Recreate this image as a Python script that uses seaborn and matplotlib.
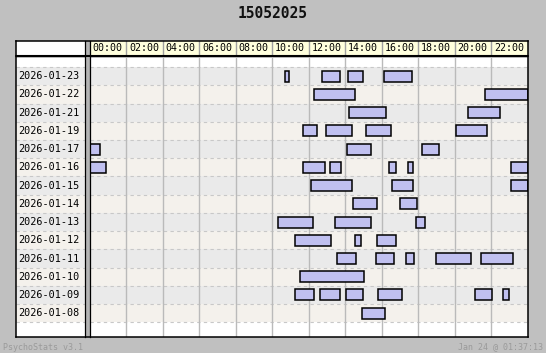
import matplotlib
matplotlib.use("Agg")
import matplotlib.pyplot as plt
import matplotlib.transforms as mtransforms
from matplotlib.lines import Line2D
import seaborn as sns
import pandas as pd

# ---------------- data ----------------
title = "15052025"
dates = ["2026-01-23", "2026-01-22", "2026-01-21", "2026-01-19", "2026-01-17",
         "2026-01-16", "2026-01-15", "2026-01-14", "2026-01-13", "2026-01-12",
         "2026-01-11", "2026-01-10", "2026-01-09", "2026-01-08"]
hour_ticks = [0, 2, 4, 6, 8, 10, 12, 14, 16, 18, 20, 22]
hour_labels = ["00:00", "02:00", "04:00", "06:00", "08:00", "10:00",
               "12:00", "14:00", "16:00", "18:00", "20:00", "22:00"]

seg_day = (["2026-01-23"] * 4 + ["2026-01-22"] * 2 + ["2026-01-21"] * 2 +
           ["2026-01-19"] * 4 + ["2026-01-17"] * 3 + ["2026-01-16"] * 6 +
           ["2026-01-15"] * 3 + ["2026-01-14"] * 2 + ["2026-01-13"] * 3 +
           ["2026-01-12"] * 3 + ["2026-01-11"] * 5 + ["2026-01-10"] * 1 +
           ["2026-01-09"] * 6 + ["2026-01-08"] * 1)
seg_start = [10.72, 12.72, 14.17, 16.12,
             12.29, 21.67,
             14.22, 20.72,
             11.69, 12.95, 15.14, 20.07,
             0.00, 14.10, 18.20,
             0.00, 11.69, 13.17, 16.40, 17.47, 23.09,
             12.12, 16.57, 23.09,
             14.42, 17.02,
             10.32, 13.44, 17.88,
             11.25, 14.54, 15.75,
             13.55, 15.69, 17.34, 18.98, 21.44,
             11.53,
             11.25, 12.62, 14.05, 15.80, 21.12, 22.65,
             14.92]
seg_end = [10.92, 13.73, 14.96, 17.65,
           14.56, 24.00,
           16.22, 22.50,
           12.44, 14.41, 16.50, 21.76,
           0.60, 15.40, 19.17,
           0.88, 12.88, 13.76, 16.82, 17.70, 24.00,
           14.41, 17.70, 24.00,
           15.78, 17.92,
           12.22, 15.40, 18.41,
           13.21, 14.85, 16.77,
           14.63, 16.66, 17.76, 20.93, 23.23,
           15.02,
           12.28, 13.70, 14.96, 17.10, 22.03, 22.96,
           16.17]

footer_left = "PsychoStats v3.1"
footer_right = "Jan 24 @ 01:37:13"

# ---------------- style ----------------
sns.set_style("white")
plt.rcParams["font.family"] = ["DejaVu Sans Mono", "DejaVu Sans"]

W, H = 546, 353
BG = "#c0c0c0"
ROW_COLORS = ["#eaeaea", "#f4f1ec"]
BAR_COLOR = "#c0c0f0"
GRID_V = "#bababa"
GRID_H = "#c8c8c8"

fig = plt.figure(figsize=(W / 100, H / 100), dpi=100, facecolor=BG)


def rect(x0, y0, x1, y1):
    return [x0 / W, 1 - y1 / H, (x1 - x0) / W, (y1 - y0) / H]


Y_TOP = 57.5
Y_BOT = 336.5
ROW_TOP = -1.03
ROW_BOT = 14.28

# main time axes
ax = fig.add_axes(rect(89.5, Y_TOP, 527.5, Y_BOT))
# label column
lab = fig.add_axes(rect(15.5, Y_TOP, 84.5, Y_BOT))
# header axes
hdr = fig.add_axes(rect(89.5, 40.5, 527.5, 55.5))
hdr_lab = fig.add_axes(rect(15.5, 40.5, 84.5, 55.5))
# separator strip
strip = fig.add_axes(rect(84.5, 40.5, 89.5, Y_BOT))

for a in (ax, lab, hdr, hdr_lab, strip):
    for s in a.spines.values():
        s.set_visible(False)

# ---------------- bars ----------------
for d, s, e in zip(seg_day, seg_start, seg_end):
    df = pd.DataFrame({"date": [d], "hours": [e - s]})
    sns.barplot(data=df, x="hours", y="date", order=dates, orient="y",
                width=0.6, left=s, color=BAR_COLOR, saturation=1,
                edgecolor="black", linewidth=1.1, errorbar=None,
                ax=ax, zorder=3)

# row backgrounds + grid
for i in range(len(dates)):
    for a in (ax, lab):
        a.axhspan(i - 0.5, i + 0.5, color=ROW_COLORS[i % 2], zorder=0, lw=0)
for i in range(len(dates) + 1):
    for a in (ax, lab):
        a.axhline(i - 0.5, color=GRID_H, lw=0.8, ls=(0, (3, 3)), zorder=1)
for h in hour_ticks[1:]:
    ax.axvline(h, color=GRID_V, lw=1.0, zorder=1)
    hdr.axvline(h, color="#a0a0a0", lw=1.0, zorder=1)

ax.set_facecolor("white")
ax.set_xlim(0, 24)
ax.set_ylim(ROW_BOT, ROW_TOP)
ax.set_xticks([])
ax.set_yticks([])
ax.set_xlabel("")
ax.set_ylabel("")

lab.set_facecolor("white")
lab.set_xlim(0, 1)
lab.set_ylim(ROW_BOT, ROW_TOP)
lab.set_xticks([])
lab.set_yticks([])
for i, d in enumerate(dates):
    lab.text(0.035, i, d, va="center", ha="left", fontsize=7.3, color="black",
             family="DejaVu Sans Mono", zorder=3)

# header
hdr.set_facecolor("#ffffdd")
hdr.set_xlim(0, 24)
hdr.set_ylim(0, 1)
hdr.set_xticks([])
hdr.set_yticks([])
for h, t in zip(hour_ticks, hour_labels):
    hdr.text(h + 0.17, 0.47, t, va="center", ha="left", fontsize=7.2,
             color="black", family="DejaVu Sans Mono")
hdr_lab.set_facecolor("white")
hdr_lab.set_xticks([])
hdr_lab.set_yticks([])

# strip
strip.set_facecolor("#b4b4b4")
strip.set_xticks([])
strip.set_yticks([])
strip.spines["left"].set_visible(True)
strip.spines["right"].set_visible(True)
strip.spines["left"].set_linewidth(0.9)
strip.spines["right"].set_linewidth(0.9)
strip.spines["left"].set_color("black")
strip.spines["right"].set_color("black")

# header bottom thick line
fig.add_artist(Line2D([15.5 / W, 527.5 / W], [1 - 56.4 / H, 1 - 56.4 / H],
                      color="black", lw=1.5, transform=fig.transFigure))

# outer frame
frame = fig.add_axes(rect(15.5, 40.5, 527.5, Y_BOT))
frame.set_facecolor("none")
frame.set_xticks([])
frame.set_yticks([])
for s in frame.spines.values():
    s.set_visible(True)
    s.set_color("black")
    s.set_linewidth(1.1)
frame.set_zorder(10)

# title & footers
fig.text(0.5, 1 - 13 / H, title, ha="center", va="center", fontsize=10.5,
         fontweight="bold", family="DejaVu Sans Mono", color="#111111")
fig.text(3 / W, 1 - 347 / H, footer_left, ha="left", va="center",
         fontsize=6, color="#9a9a9a", family="DejaVu Sans Mono")
fig.text(543 / W, 1 - 347 / H, footer_right, ha="right", va="center",
         fontsize=6, color="#9a9a9a", family="DejaVu Sans Mono")

fig.savefig("out.png", dpi=100, facecolor=BG)
